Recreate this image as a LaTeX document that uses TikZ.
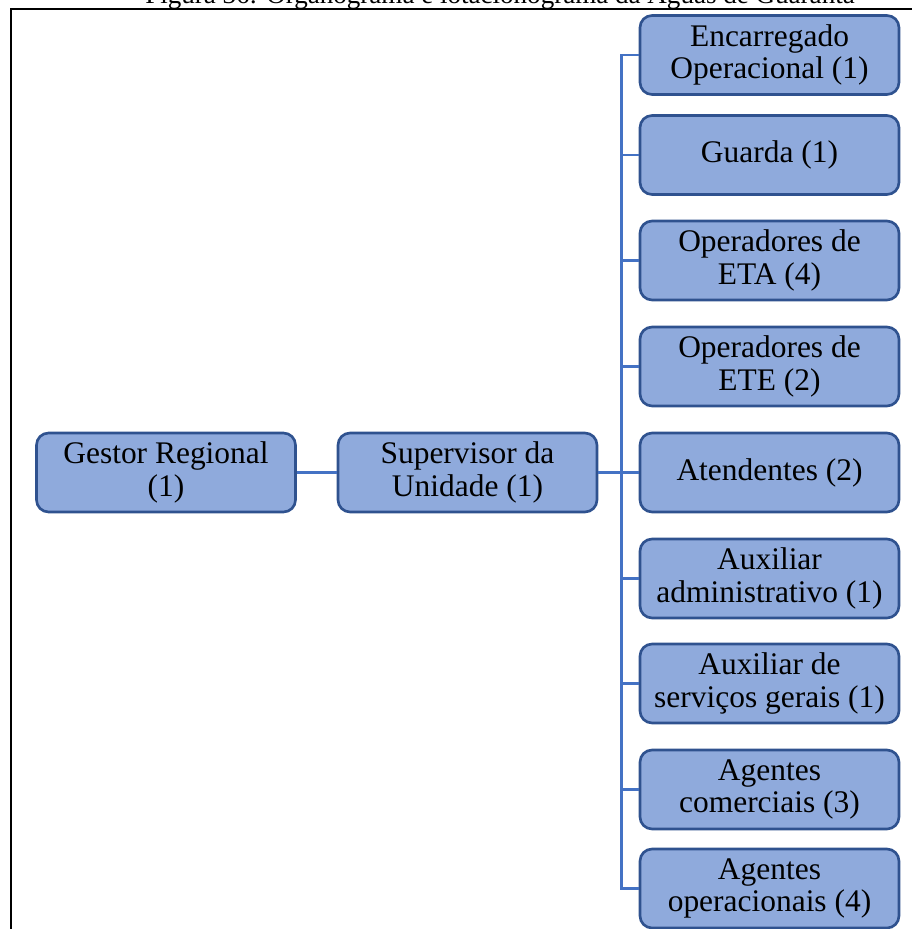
\documentclass[tikz,border=0pt]{standalone}
\usepackage{fontspec}
\setmainfont{Liberation Serif}
\usetikzlibrary{positioning}

\definecolor{boxfill}{RGB}{143,170,220}
\definecolor{boxline}{RGB}{47,82,143}
\definecolor{linkblue}{RGB}{68,114,196}

\begin{document}
\begin{tikzpicture}[
    x=0.02cm, y=-0.02cm,
    font=\fontsize{17.9}{18.3}\selectfont,
    post/.style={draw=boxline, line width=1.5pt, rounded corners=0.24cm,
                 fill=boxfill, align=center, inner sep=2pt,
                 minimum width=5.18cm, minimum height=1.58cm},
    link/.style={draw=linkblue, line width=1.6pt},
    frame/.style={draw=black, line width=1.1pt},
    caption/.style={font=\fontsize{15.4}{18}\selectfont, anchor=base, inner sep=0pt}]

    \clip (0,0) rectangle (912,929);

    \node[caption] (title) at (500,4) {Figura 36: Organograma e lotacionograma da Águas de Guarantã};
    \draw[frame] (11,940) -- (11,9) -- (930,9);

    \node[post] (gestor)  at (166,472.5)   {Gestor Regional\\(1)};
    \node[post] (superv)  at (467.5,472.5) {Supervisor da\\Unidade (1)};

    \node[post] (encarr)  at (769.5,55)    {Encarregado\\Operacional (1)};
    \node[post] (guarda)  at (769.5,155)   {Guarda (1)};
    \node[post] (opeta)   at (769.5,260.5) {Operadores de\\ETA (4)};
    \node[post] (opete)   at (769.5,366.5) {Operadores de\\ETE (2)};
    \node[post] (atend)   at (769.5,472.5) {Atendentes (2)};
    \node[post] (auxadm)  at (769.5,578.5) {Auxiliar\\administrativo (1)};
    \node[post] (auxserv) at (769.5,683.5) {Auxiliar de\\serviços gerais (1)};
    \node[post] (agcom)   at (769.5,789.5) {Agentes\\comerciais (3)};
    \node[post] (agop)    at (769.5,888.5) {Agentes\\operacionais (4)};

    % ligacoes
    \draw[link] (gestor) -- (superv);
    \draw[link] (superv.east) -- ++(23,0) coordinate (bus);
    \draw[link] (encarr.west) -- (encarr.west -| bus) -- (agop.west -| bus) -- (agop.west);
    \foreach \n in {guarda,opeta,opete,atend,auxadm,auxserv,agcom}
      \draw[link] (\n.west -| bus) -- (\n.west);
\end{tikzpicture}
\end{document}
